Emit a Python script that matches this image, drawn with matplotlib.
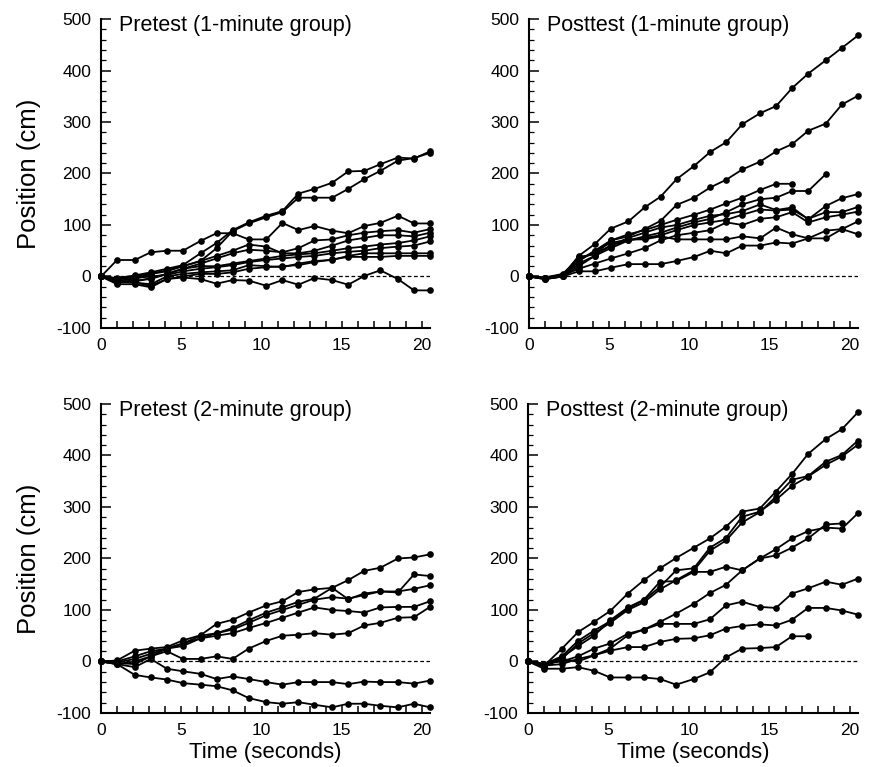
import matplotlib
matplotlib.use("Agg")
import matplotlib.pyplot as plt
from matplotlib.ticker import MultipleLocator

plt.rcParams['font.family'] = ['Liberation Sans', 'DejaVu Sans']
plt.rcParams['axes.unicode_minus'] = False

# sample times (seconds)
TIME = [0, 1.0, 2.1, 3.1, 4.1, 5.1, 6.2, 7.2, 8.2, 9.2, 10.3,
        11.3, 12.3, 13.3, 14.4, 15.4, 16.4, 17.4, 18.5, 19.5, 20.5]

# Pretest (1-minute group)
pre1_a = [0, -3, 2, 8, 15, 22, 45, 65, 90, 105, 118, 127, 161, 170, 182, 204, 205, 218, 231, 229, 243]
pre1_b = [0, -8, -5, 5, 12, 20, 30, 55, 88, 103, 115, 125, 153, 153, 153, 170, 189, 205, 225, 230, 240]
pre1_c = [0, 32, 32, 47, 50, 50, 69, 84, 84, 72, 72, 104, 90, 98, 89, 84, 98, 104, 118, 103, 103]
pre1_d = [0, -10, -8, -5, 5, 15, 25, 35, 45, 52, 50, 47, 55, 70, 72, 80, 85, 88, 90, 85, 92]
pre1_e = [0, -5, 0, 5, 10, 20, 30, 40, 50, 62, 58, 45, 45, 50, 60, 70, 75, 80, 80, 78, 85]
pre1_f = [0, -12, -10, -3, 5, 15, 20, 20, 25, 30, 35, 40, 43, 45, 50, 55, 58, 62, 65, 70, 78]
pre1_g = [0, -5, -3, 0, 3, 10, 15, 18, 22, 28, 32, 35, 38, 40, 45, 48, 50, 55, 58, 60, 68]
pre1_h = [0, -10, -12, -15, 0, 5, 8, 10, 12, 22, 20, 18, 25, 30, 32, 40, 45, 45, 45, 45, 45]
pre1_i = [0, -8, -12, -18, -5, 0, 5, 5, 8, 15, 18, 20, 22, 28, 33, 38, 38, 38, 40, 40, 40]
pre1_j = [0, -15, -15, -21, -5, -2, -5, -14, -7, -8, -18, -7, -16, -3, -7, -16, 1, 12, -5, -27, -27]

# Posttest (1-minute group)
post1_a = [0, -3, 1, 40, 63, 93, 107, 134, 155, 189, 215, 242, 261, 296, 317, 331, 366, 394, 420, 444, 468]
post1_b = [0, -2, 3, 38, 43, 70, 78, 92, 108, 139, 153, 173, 188, 208, 223, 243, 257, 283, 297, 334, 351]
post1_c = [0, -3, 3, 30, 50, 70, 82, 90, 100, 110, 120, 130, 142, 153, 168, 180, 180]
post1_d = [0, -5, 0, 25, 40, 55, 70, 78, 85, 95, 105, 112, 125, 140, 150, 153, 166, 166, 199]
post1_e = [0, -2, 5, 35, 45, 60, 75, 85, 95, 100, 110, 118, 121, 127, 140, 129, 134, 111, 137, 152, 160]
post1_f = [0, -5, 0, 20, 40, 60, 70, 75, 80, 90, 100, 105, 110, 120, 130, 128, 130, 112, 125, 125, 135]
post1_g = [0, -3, 2, 15, 25, 35, 45, 55, 70, 80, 85, 90, 105, 100, 112, 115, 125, 105, 115, 120, 126]
post1_h = [0, -5, 0, 10, 10, 17, 24, 24, 24, 30, 38, 50, 45, 60, 60, 66, 64, 74, 74, 92, 107]
post1_i = [0, -3, 3, 30, 50, 65, 72, 72, 78, 72, 72, 72, 72, 78, 74, 95, 82, 74, 89, 92, 82]

# Pretest (2-minute group)
pre2_a = [0, 2, 21, 25, 28, 41, 51, 73, 81, 95, 109, 117, 135, 140, 143, 158, 176, 182, 200, 202, 208]
pre2_b = [0, 0, 10, 20, 25, 35, 45, 55, 65, 80, 95, 105, 116, 122, 143, 121, 132, 136, 134, 169, 166]
pre2_c = [0, -2, 5, 15, 25, 35, 50, 55, 62, 75, 90, 100, 110, 120, 125, 122, 129, 136, 136, 141, 148]
pre2_d = [0, -3, -5, 10, 25, 30, 45, 50, 55, 65, 75, 85, 95, 105, 100, 98, 95, 105, 106, 106, 117]
pre2_e = [0, -5, 0, 10, 20, 5, 5, 10, 5, 25, 40, 50, 52, 55, 52, 55, 70, 75, 85, 86, 106]
pre2_f = [0, -5, -11, 5, -14, -19, -24, -34, -29, -34, -40, -45, -40, -40, -40, -44, -39, -40, -40, -43, -37]
pre2_g = [0, -5, -26, -31, -35, -42, -45, -48, -56, -71, -79, -82, -79, -84, -89, -82, -82, -86, -89, -82, -89]

# Posttest (2-minute group)
post2_a = [0, -8, 25, 57, 77, 98, 132, 158, 181, 201, 221, 239, 262, 291, 297, 330, 364, 403, 432, 451, 484]
post2_b = [0, -5, 10, 40, 60, 78, 103, 119, 145, 177, 181, 221, 240, 281, 291, 314, 341, 359, 382, 398, 421]
post2_c = [0, -6, 5, 35, 55, 75, 100, 115, 140, 158, 177, 215, 235, 270, 290, 320, 353, 360, 388, 401, 429]
post2_d = [0, -4, 0, 10, 25, 35, 54, 62, 77, 93, 112, 133, 149, 177, 200, 218, 239, 253, 260, 258, 288]
post2_e = [0, -6, 8, 30, 50, 80, 105, 120, 155, 156, 174, 174, 184, 177, 200, 206, 221, 239, 266, 268]
post2_f = [0, -8, -5, 5, 12, 25, 51, 62, 73, 73, 73, 82, 109, 116, 106, 104, 132, 142, 155, 149, 161]
post2_g = [0, -10, 5, 0, 12, 21, 28, 28, 38, 44, 45, 51, 64, 69, 72, 70, 81, 104, 104, 99, 91]
post2_h = [0, -14, -14, -11, -18, -31, -31, -31, -34, -45, -34, -21, 8, 25, 26, 28, 49, 49]

TITLES = ["Pretest (1-minute group)", "Posttest (1-minute group)",
          "Pretest (2-minute group)", "Posttest (2-minute group)"]
PANELS = [
    [pre1_a, pre1_b, pre1_c, pre1_d, pre1_e, pre1_f, pre1_g, pre1_h, pre1_i, pre1_j],
    [post1_a, post1_b, post1_c, post1_d, post1_e, post1_f, post1_g, post1_h, post1_i],
    [pre2_a, pre2_b, pre2_c, pre2_d, pre2_e, pre2_f, pre2_g],
    [post2_a, post2_b, post2_c, post2_d, post2_e, post2_f, post2_g, post2_h],
]
X_TICKS = [0, 5, 10, 15, 20]
Y_TICKS = [-100, 0, 100, 200, 300, 400, 500]

fig = plt.figure(figsize=(8.7, 7.67), dpi=100)
rects = [
    [0.1161, 0.5724, 0.3782, 0.4028],
    [0.6080, 0.5724, 0.3782, 0.4028],
    [0.1161, 0.0704, 0.3782, 0.4029],
    [0.6070, 0.0704, 0.3792, 0.4029],
]

for k, (rect, title, series) in enumerate(zip(rects, TITLES, PANELS)):
    ax = fig.add_axes(rect)
    ax.axhline(0, color='black', lw=0.9, ls=(0, (3, 2)), zorder=1)
    for s in series:
        ax.plot(TIME[:len(s)], s, '-o', color='black', lw=1.3, ms=4.8,
                markeredgewidth=0, zorder=2, clip_on=False)
    ax.set_xlim(0, 20.5)
    ax.set_ylim(-100, 500)
    ax.set_xticks(X_TICKS)
    ax.set_yticks(Y_TICKS)
    ax.xaxis.set_minor_locator(MultipleLocator(1))
    ax.yaxis.set_minor_locator(MultipleLocator(20))
    for side in ('top', 'right'):
        ax.spines[side].set_visible(False)
    for side in ('left', 'bottom'):
        ax.spines[side].set_linewidth(1.5)
    ax.tick_params(axis='both', which='major', direction='in', labelsize=12.5,
                   width=1.1, pad=7)
    ax.tick_params(axis='y', which='major', length=7)
    ax.tick_params(axis='y', which='minor', direction='in', length=3.5, width=0.9)
    ax.tick_params(axis='x', which='major', length=5)
    ax.tick_params(axis='x', which='minor', direction='in', length=5, width=1.1)
    ax.text(0.055, 0.962, title, transform=ax.transAxes, fontsize=15.5,
            ha='left', va='baseline')
    if k % 2 == 0:
        ax.set_ylabel("Position (cm)", fontsize=18.5, labelpad=11)
    if k >= 2:
        ax.set_xlabel("Time (seconds)", fontsize=16, labelpad=3)

fig.savefig("out.png", dpi=100)
